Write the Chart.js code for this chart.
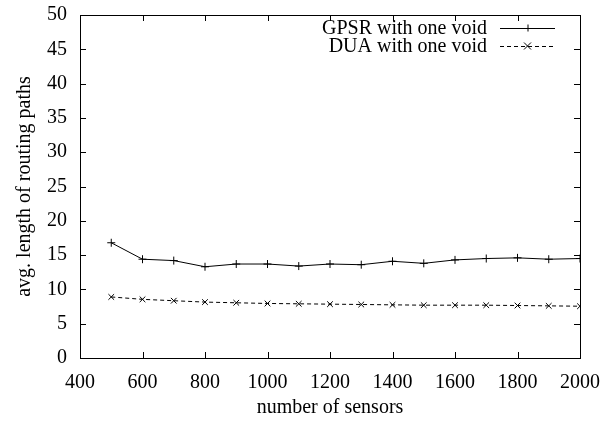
<!DOCTYPE html>
<html>
<head>
<meta charset="utf-8">
<script src="https://cdn.jsdelivr.net/npm/chart.js@4/dist/chart.umd.min.js"></script>
<style>
  html, body { margin: 0; padding: 0; background: #fff; }
  #wrap { width: 603px; height: 428px; }
</style>
</head>
<body>
<div id="wrap"><canvas id="voidChart" width="603" height="428"></canvas></div>
<script>
// --- Data ---
const sensors = [500, 600, 700, 800, 900, 1000, 1100, 1200, 1300, 1400, 1500, 1600, 1700, 1800, 1900, 2000];
const gpsrPaths = [16.8, 14.4, 14.2, 13.3, 13.7, 13.7, 13.4, 13.7, 13.6, 14.1, 13.8, 14.3, 14.5, 14.6, 14.4, 14.5];
const duaPaths = [8.9, 8.55, 8.35, 8.15, 8.05, 7.95, 7.9, 7.85, 7.8, 7.75, 7.7, 7.7, 7.7, 7.65, 7.6, 7.55];
const seriesNames = ['GPSR with one void', 'DUA with one void'];
const xTicks = [400, 600, 800, 1000, 1200, 1400, 1600, 1800, 2000];
const yTicks = [0, 5, 10, 15, 20, 25, 30, 35, 40, 45, 50];

const FONT = 'Liberation Serif, Times New Roman, serif';
const TICK_LEN = 6;

// gnuplot-ish frame with inward ticks on all four sides
const framePlugin = {
  id: 'frame',
  afterDraw(chart) {
    const { ctx, chartArea: a, scales } = chart;
    ctx.save();
    ctx.strokeStyle = '#000';
    ctx.lineWidth = 1;
    ctx.strokeRect(a.left + 0.5, a.top + 0.5, a.right - a.left, a.bottom - a.top);
    ctx.beginPath();
    xTicks.forEach(v => {
      const x = Math.round(scales.x.getPixelForValue(v)) + 0.5;
      ctx.moveTo(x, a.bottom); ctx.lineTo(x, a.bottom - TICK_LEN);
      ctx.moveTo(x, a.top); ctx.lineTo(x, a.top + TICK_LEN);
    });
    yTicks.forEach(v => {
      const y = Math.round(scales.y.getPixelForValue(v)) + 0.5;
      ctx.moveTo(a.left, y); ctx.lineTo(a.left + TICK_LEN, y);
      ctx.moveTo(a.right, y); ctx.lineTo(a.right - TICK_LEN, y);
    });
    ctx.stroke();
    ctx.restore();
  }
};

// key in the top right corner: text first, then sample line with marker
const keyPlugin = {
  id: 'key',
  afterDraw(chart) {
    const { ctx } = chart;
    const textRight = 487, lineL = 500, lineR = 555, rows = [28, 46];
    ctx.save();
    ctx.font = '20px ' + FONT;
    ctx.fillStyle = '#000';
    ctx.textAlign = 'right';
    ctx.textBaseline = 'middle';
    chart.data.datasets.forEach((ds, i) => {
      const y = rows[i];
      ctx.fillText(ds.label, textRight, y + 1);
      ctx.strokeStyle = '#000';
      ctx.lineWidth = 1;
      ctx.setLineDash(ds.borderDash || []);
      ctx.beginPath();
      ctx.moveTo(lineL, y + 0.5); ctx.lineTo(lineR, y + 0.5);
      ctx.stroke();
      ctx.setLineDash([]);
      const mx = (lineL + lineR) / 2, r = 3.5;
      ctx.beginPath();
      if (ds.pointStyle === 'cross') {
        ctx.moveTo(mx - r, y + 0.5); ctx.lineTo(mx + r, y + 0.5);
        ctx.moveTo(mx + 0.5, y - r); ctx.lineTo(mx + 0.5, y + r);
      } else {
        ctx.moveTo(mx - r, y - r); ctx.lineTo(mx + r, y + r);
        ctx.moveTo(mx - r, y + r); ctx.lineTo(mx + r, y - r);
      }
      ctx.stroke();
    });
    ctx.restore();
  }
};

const ctx = document.getElementById('voidChart').getContext('2d');

new Chart(ctx, {
  type: 'line',
  data: {
    datasets: [
      {
        label: seriesNames[0],
        data: sensors.map((s, i) => ({ x: s, y: gpsrPaths[i] })),
        borderColor: '#000',
        backgroundColor: '#000',
        borderWidth: 1,
        pointStyle: 'cross',
        pointRadius: 4,
        pointBorderWidth: 1,
        tension: 0
      },
      {
        label: seriesNames[1],
        data: sensors.map((s, i) => ({ x: s, y: duaPaths[i] })),
        borderColor: '#000',
        backgroundColor: '#000',
        borderWidth: 1,
        borderDash: [4, 3],
        pointStyle: 'crossRot',
        pointRadius: 4,
        pointBorderWidth: 1,
        tension: 0
      }
    ]
  },
  options: {
    responsive: false,
    animation: false,
    devicePixelRatio: 1,
    layout: { padding: { top: 15, right: 23, left: 0, bottom: 0 } },
    scales: {
      x: {
        type: 'linear',
        min: 400,
        max: 2000,
        afterBuildTicks: scale => { scale.ticks = xTicks.map(v => ({ value: v })); },
        afterFit: scale => {
          scale.height = 70;
          scale.paddingLeft = 0; scale.paddingRight = 0;
        },
        grid: { display: false, drawTicks: false },
        border: { display: false },
        ticks: {
          color: '#000', padding: 13, maxRotation: 0,
          font: { family: FONT, size: 20 },
          callback: v => String(v)
        },
        title: {
          display: true,
          text: 'number of sensors',
          color: '#000',
          font: { family: FONT, size: 20 },
          padding: { top: 0, bottom: 8 }
        }
      },
      y: {
        min: 0,
        max: 50,
        afterBuildTicks: scale => { scale.ticks = yTicks.map(v => ({ value: v })); },
        afterFit: scale => {
          scale.width = 80;
          scale.paddingTop = 0; scale.paddingBottom = 0;
        },
        grid: { display: false, drawTicks: false },
        border: { display: false },
        ticks: {
          color: '#000', padding: 13,
          font: { family: FONT, size: 20 },
          callback: v => String(v)
        },
        title: {
          display: true,
          text: 'avg. length of routing paths',
          color: '#000',
          font: { family: FONT, size: 20 },
          padding: { top: 13, bottom: 0 }
        }
      }
    },
    plugins: {
      legend: { display: false },
      tooltip: { enabled: false }
    }
  },
  plugins: [framePlugin, keyPlugin]
});
</script>
</body>
</html>
